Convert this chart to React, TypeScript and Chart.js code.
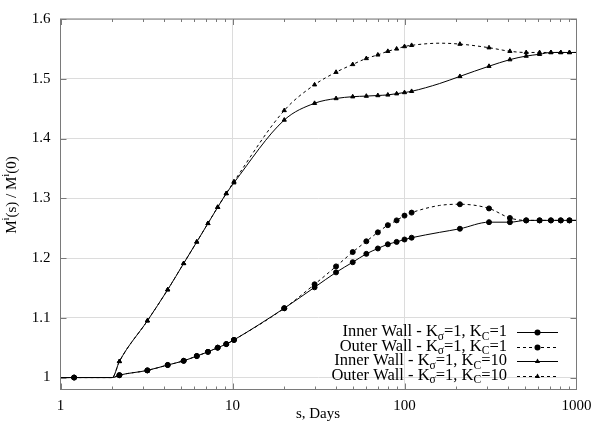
import React, { useEffect, useRef } from "react";
import { Chart, registerables } from "chart.js";

Chart.register(...registerables);

// ---- data ----
const X_DAYS = [1, 1.2, 2, 2.2, 3.2, 4.2, 5.2, 6.2, 7.2, 8.2, 9.2, 10.2, 20, 30, 40, 50, 60, 70, 80, 90, 100, 110, 160, 210, 310, 410, 510, 610, 710, 810, 910, 1000];
const UNMARKED_X = [1, 2, 160, 1000];

const INNER_KC1 = [1.0, 1.0, 1.0, 1.004, 1.012, 1.021, 1.028, 1.036, 1.043, 1.05, 1.056, 1.063, 1.116, 1.151, 1.176, 1.193, 1.207, 1.216, 1.223, 1.227, 1.231, 1.234, 1.243, 1.249, 1.26, 1.26, 1.263, 1.263, 1.263, 1.263, 1.263, 1.263];
const OUTER_KC1 = [1.0, 1.0, 1.0, 1.004, 1.012, 1.021, 1.028, 1.036, 1.043, 1.05, 1.056, 1.063, 1.116, 1.156, 1.186, 1.21, 1.228, 1.243, 1.255, 1.263, 1.271, 1.276, 1.288, 1.29, 1.283, 1.267, 1.263, 1.263, 1.263, 1.263, 1.263, 1.263];
const INNER_KC10 = [1.0, 1.0, 1.0, 1.027, 1.095, 1.147, 1.191, 1.227, 1.258, 1.285, 1.308, 1.326, 1.431, 1.459, 1.467, 1.47, 1.471, 1.472, 1.473, 1.475, 1.477, 1.479, 1.492, 1.504, 1.521, 1.532, 1.538, 1.541, 1.544, 1.544, 1.544, 1.544];
const OUTER_KC10 = [1.0, 1.0, 1.0, 1.027, 1.095, 1.147, 1.191, 1.227, 1.258, 1.285, 1.308, 1.328, 1.447, 1.49, 1.511, 1.524, 1.534, 1.54, 1.546, 1.55, 1.554, 1.556, 1.5595, 1.558, 1.552, 1.546, 1.544, 1.544, 1.544, 1.544, 1.544, 1.544];

const X_TICKS = [1, 10, 100, 1000];
const Y_TICKS = [1, 1.1, 1.2, 1.3, 1.4, 1.5, 1.6];

type Seg = [string, "n" | "sub" | "sup"];
const LEGEND_LABELS: Seg[][] = [
  [["Inner Wall - K", "n"], ["σ", "sub"], ["=1, K", "n"], ["C", "sub"], ["=1", "n"]],
  [["Outer Wall - K", "n"], ["σ", "sub"], ["=1, K", "n"], ["C", "sub"], ["=1", "n"]],
  [["Inner Wall - K", "n"], ["σ", "sub"], ["=1, K", "n"], ["C", "sub"], ["=10", "n"]],
  [["Outer Wall - K", "n"], ["σ", "sub"], ["=1, K", "n"], ["C", "sub"], ["=10", "n"]],
];
const Y_TITLE: Seg[] = [["M", "n"], ["i", "sup"], ["(s) / M", "n"], ["i", "sup"], ["(0)", "n"]];
const X_TITLE = "s, Days";

const FONT = "'Liberation Serif', 'Times New Roman', serif";

function drawRich(ctx: CanvasRenderingContext2D, segs: Seg[], x: number, y: number, size: number, align: "left" | "right" | "center") {
  const widths = segs.map(([t, m]) => {
    ctx.font = `${m === "n" ? size : size * 0.7}px ${FONT}`;
    return ctx.measureText(t).width;
  });
  const total = widths.reduce((a, b) => a + b, 0);
  let cx = align === "right" ? x - total : align === "center" ? x - total / 2 : x;
  ctx.textAlign = "left";
  ctx.textBaseline = "middle";
  segs.forEach(([t, m], i) => {
    ctx.font = `${m === "n" ? size : size * 0.7}px ${FONT}`;
    const dy = m === "sub" ? size * 0.3 : m === "sup" ? -size * 0.4 : 0;
    ctx.fillText(t, cx, y + dy);
    cx += widths[i];
  });
}

const decorPlugin = {
  id: "decor",
  afterDatasetsDraw(chart: any) {
    const ctx: CanvasRenderingContext2D = chart.ctx;
    const { left, right, top, bottom } = chart.chartArea;
    const xs = chart.scales.x;
    const ys = chart.scales.y;
    ctx.save();
    ctx.strokeStyle = "#7a7a7a";
    ctx.lineWidth = 1;
    ctx.setLineDash([]);
    ctx.beginPath();
    // x ticks (major + minor), bottom & top, inward
    for (const d of [1, 10, 100]) {
      for (let k = 1; k <= 9; k++) {
        const px = Math.round(xs.getPixelForValue(k * d)) + 0.5;
        const len = k === 1 ? 6 : 3;
        ctx.moveTo(px, bottom);
        ctx.lineTo(px, bottom - len);
        ctx.moveTo(px, top);
        ctx.lineTo(px, top + len);
      }
    }
    // y ticks left & right
    for (const v of Y_TICKS) {
      const py = Math.round(ys.getPixelForValue(v)) + 0.5;
      ctx.moveTo(left, py);
      ctx.lineTo(left + 6, py);
      ctx.moveTo(right, py);
      ctx.lineTo(right - 6, py);
    }
    ctx.stroke();
    ctx.strokeRect(left, top, right - left, bottom - top);

    // legend
    ctx.fillStyle = "#000";
    ctx.strokeStyle = "#000";
    const rowY = [332, 346.5, 361, 375.5];
    const styles = [
      { dash: [] as number[], marker: "circle" },
      { dash: [3, 3], marker: "circle" },
      { dash: [] as number[], marker: "triangle" },
      { dash: [3, 3], marker: "triangle" },
    ];
    LEGEND_LABELS.forEach((segs, i) => {
      const y = rowY[i];
      drawRich(ctx, segs, 507, y, 16.5, "right");
      ctx.beginPath();
      ctx.setLineDash(styles[i].dash);
      ctx.moveTo(517, Math.round(y) + 0.5);
      ctx.lineTo(558, Math.round(y) + 0.5);
      ctx.stroke();
      ctx.setLineDash([]);
      const my = Math.round(y) + 0.5;
      ctx.beginPath();
      if (styles[i].marker === "circle") {
        ctx.arc(537.5, my, 3, 0, Math.PI * 2);
      } else {
        const r = 3;
        ctx.moveTo(537.5, my - r);
        ctx.lineTo(537.5 + r * 0.87, my + r * 0.5);
        ctx.lineTo(537.5 - r * 0.87, my + r * 0.5);
        ctx.closePath();
      }
      ctx.fill();
    });

    // axis titles
    ctx.fillStyle = "#000";
    ctx.font = `15px ${FONT}`;
    ctx.textAlign = "center";
    ctx.textBaseline = "middle";
    ctx.fillText(X_TITLE, 318, 414);
    ctx.save();
    ctx.translate(12, 195);
    ctx.rotate(-Math.PI / 2);
    drawRich(ctx, Y_TITLE, 0, 0, 15, "center");
    ctx.restore();
    ctx.restore();
  },
};

function makeDataset(values: number[], dashed: boolean, marker: string) {
  return {
    data: X_DAYS.map((x, i) => ({ x, y: values[i] })),
    borderColor: "#000",
    backgroundColor: "#000",
    borderWidth: 1,
    borderDash: dashed ? [3, 3] : [],
    pointStyle: marker,
    pointRadius: X_DAYS.map((x) => (UNMARKED_X.includes(x) ? 0 : marker === "circle" ? 2.5 : 2.4)),
    pointBorderWidth: 1,
    pointBorderColor: "#000",
    pointBackgroundColor: "#000",
    cubicInterpolationMode: "monotone" as const,
    fill: false,
  };
}

export default function App() {
  const canvasRef = useRef<HTMLCanvasElement | null>(null);

  useEffect(() => {
    if (!canvasRef.current) return;
    const chart = new Chart(canvasRef.current, {
      type: "line",
      data: {
        datasets: [
          makeDataset(INNER_KC1, false, "circle"),
          makeDataset(OUTER_KC1, true, "circle"),
          makeDataset(INNER_KC10, false, "triangle"),
          makeDataset(OUTER_KC10, true, "triangle"),
        ] as any,
      },
      options: {
        animation: false,
        responsive: false,
        maintainAspectRatio: false,
        layout: { padding: { top: 12.5, right: 23.5, left: 0, bottom: 0 } },
        plugins: { legend: { display: false }, tooltip: { enabled: false } },
        scales: {
          x: {
            type: "logarithmic",
            min: 1,
            max: 1000,
            afterBuildTicks: (scale: any) => {
              scale.ticks = X_TICKS.map((v) => ({ value: v }));
            },
            afterFit: (scale: any) => {
              scale.height = 38.5;
            },
            ticks: {
              autoSkip: false,
              maxRotation: 0,
              padding: 8,
              color: "#000",
              font: { family: FONT, size: 15 },
              callback: (v: any) => String(v),
            },
            grid: { color: "#dcdcdc", drawTicks: false },
            border: { display: false },
          },
          y: {
            type: "linear",
            min: 0.98,
            max: 1.6,
            afterBuildTicks: (scale: any) => {
              scale.ticks = Y_TICKS.map((v) => ({ value: v }));
            },
            afterFit: (scale: any) => {
              scale.width = 60.5;
            },
            ticks: {
              padding: 10,
              color: "#000",
              font: { family: FONT, size: 15 },
              callback: (v: any) => String(Number(Number(v).toFixed(1))),
            },
            grid: { color: "#dcdcdc", drawTicks: false },
            border: { display: false },
          },
        },
      },
      plugins: [decorPlugin],
    });
    return () => chart.destroy();
  }, []);

  return (
    <div style={{ position: "absolute", left: 0, top: 0, width: 600, height: 428, background: "#fff" }}>
      <canvas ref={canvasRef} width={600} height={428} style={{ display: "block", width: 600, height: 428 }} />
    </div>
  );
}
